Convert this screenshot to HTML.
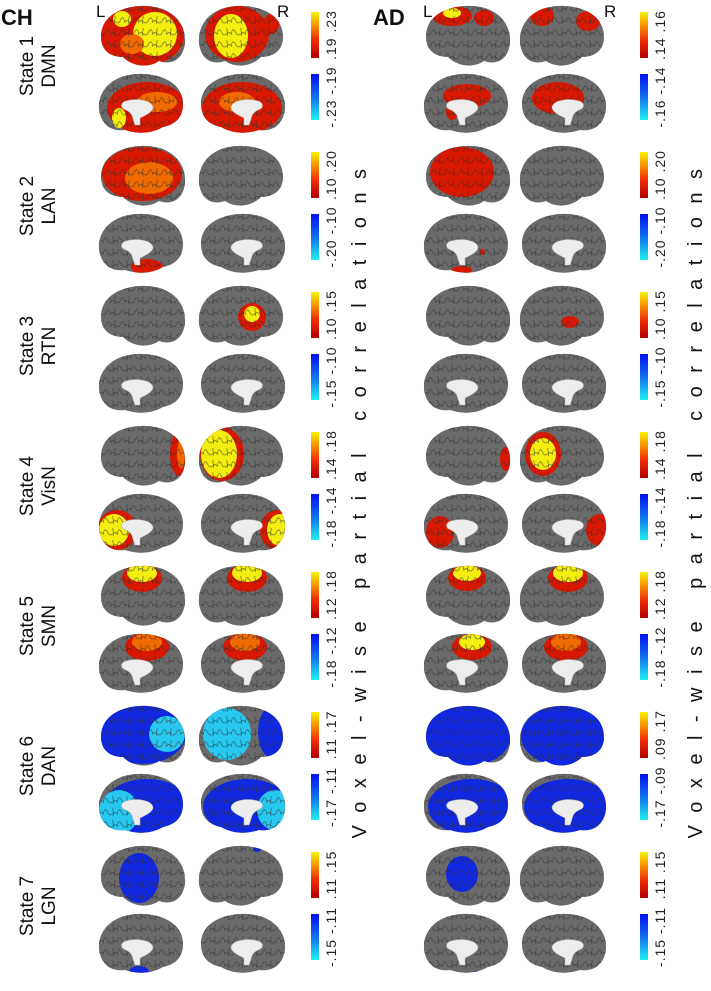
<!DOCTYPE html>
<html><head><meta charset="utf-8"><style>
body{margin:0;background:#fff;width:711px;height:991px;overflow:hidden;font-family:"Liberation Sans",sans-serif}
svg{display:block}
</style></head><body>
<svg id="fig" width="711" height="991" viewBox="0 0 711 991" xmlns="http://www.w3.org/2000/svg">
<defs>
<linearGradient id="warm" x1="0" y1="1" x2="0" y2="0"><stop offset="0" stop-color="#b00000"/><stop offset="0.4" stop-color="#f03000"/><stop offset="0.75" stop-color="#f8a000"/><stop offset="1" stop-color="#f8f000"/></linearGradient>
<linearGradient id="cool" x1="0" y1="0" x2="0" y2="1"><stop offset="0" stop-color="#0010f0"/><stop offset="0.5" stop-color="#1070f0"/><stop offset="1" stop-color="#20f0f0"/></linearGradient>
<pattern id="gyri" width="14" height="12" patternUnits="userSpaceOnUse"><path d="M0,6 C3,1 6,11 9,5 S13,2 14,7 M4,0 C5,3 2,4 4,8" fill="none" stroke="#2e2e2e" stroke-width="0.8" opacity="0.6"/></pattern>
<path id="latL" d="M4,33 C4,10 28,1 50,2 C74,3 89,18 88,38 C87,54 76,62 62,57 C52,64 36,63 26,53 C12,53 4,45 4,33Z"/>
<path id="med" d="M4,32 C4,10 28,1 50,2 C74,3 89,18 88,36 C87,52 76,60 62,58 C50,62 36,62 24,55 C10,52 4,44 4,32Z"/>
</defs>
<g id="root"></g>
</svg>
<script>
const NS='http://www.w3.org/2000/svg';
const root=document.getElementById('root');
function mk(tag,attrs,parent){const e=document.createElementNS(NS,tag);for(const k in attrs)e.setAttribute(k,attrs[k]);(parent||root).appendChild(e);return e;}
const C={r:'#d81800',o:'#f06a00',y:'#f4ee10',b:'#1028e0',c:'#28c8f0'};
const chBlobs=[
 [[[45,32,42,30,'r'],[58,30,22,22,'y'],[25,15,9,8,'y'],[35,40,12,10,'o']],[[40,30,32,28,'r'],[34,32,17,22,'y'],[74,20,8,10,'r']],[[50,36,40,26,'r'],[60,30,20,10,'o'],[22,46,7,10,'y']],[[45,36,40,26,'r'],[40,30,18,10,'o']]],
 [[[45,30,40,27,'r'],[52,34,24,16,'o']],[],[[50,55,16,8,'r']],[]],
 [[],[[55,33,14,14,'r'],[55,30,8,8,'y']],[],[[80,62,4,3,'r']]],
 [[[82,30,9,22,'r'],[84,30,4,14,'o']],[[25,30,22,27,'r'],[22,30,18,24,'y']],[[20,38,20,20,'r'],[17,38,15,16,'y']],[[80,38,17,20,'r'],[83,38,13,16,'y']]],
 [[[45,14,20,14,'r'],[45,9,15,9,'y']],[[50,14,20,14,'r'],[50,9,15,9,'y']],[[50,15,22,14,'r'],[50,10,15,9,'o']],[[48,15,22,14,'r'],[48,10,15,9,'o']]],
 [[[45,30,44,30,'b'],[70,30,18,18,'c']],[[30,30,24,26,'c'],[75,28,14,26,'b']],[[50,35,44,28,'b'],[22,40,20,22,'c']],[[50,35,44,28,'b'],[78,38,18,20,'c']]],
 [[[42,34,20,25,'b']],[[60,5,4,3,'b']],[[42,60,10,6,'b']],[]]
];
const adBlobs=[
 [[[30,12,20,10,'r'],[30,9,9,5,'y'],[62,14,10,8,'r']],[[24,12,12,10,'r'],[70,17,12,10,'r']],[[45,24,24,12,'r'],[30,40,6,8,'r']],[[40,26,26,16,'r']]],
 [[[40,28,32,25,'r']],[],[[40,58,10,4,'r'],[60,40,3,3,'r']],[]],
 [[],[[52,38,9,6,'r']],[],[]],
 [[[84,35,6,12,'r']],[[25,30,18,22,'r'],[25,30,13,16,'y']],[[18,40,14,16,'r']],[[82,38,14,16,'r']]],
 [[[45,14,19,13,'r'],[45,9,14,8,'y']],[[50,14,20,14,'r'],[50,9,15,9,'y']],[[50,15,20,13,'r'],[50,10,13,8,'y']],[[48,15,22,14,'r'],[48,10,15,9,'o']]],
 [[[45,32,44,30,'b']],[[45,32,42,30,'b']],[[50,35,44,28,'b']],[[50,35,44,28,'b']]],
 [[[40,30,16,18,'b']],[],[[55,62,4,3,'b']],[]]
];
const stateNames=['DMN','LAN','RTN','VisN','SMN','DAN','LGN'];
const chTicks=[['.19','.23'],['.10','.20'],['.10','.15'],['.14','.18'],['.12','.18'],['.11','.17'],['.11','.15']];
const adTicks=[['.14','.16'],['.10','.20'],['.10','.15'],['.14','.18'],['.12','.18'],['.09','.17'],['.11','.15']];
let cid=0;
function brain(x,y,type,mirror,blobs,name){
  const g=mk('g',{transform:`translate(${x},${y})`+(mirror?' translate(90,0) scale(-1,1)':'')});
  
  
  const id='cl'+(cid++);
  const cp=mk('clipPath',{id:id},g);mk('use',{href:type==='lat'?'#latL':'#med'},cp);
  mk('use',{href:type==='lat'?'#latL':'#med',fill:'#6a6a6a'},g);
  const inner=mk('g',{'clip-path':`url(#${id})`},g);
  blobs.forEach(b=>{
    const bx=mirror?90-b[0]:b[0];
    mk('ellipse',{cx:bx,cy:b[1],rx:b[2],ry:b[3],fill:C[b[4]]},inner);
  });
  mk('rect',{x:0,y:0,width:92,height:66,fill:'url(#gyri)'},inner);
  if(type==='med'){
    mk('path',{d:'M34,35 C36,28 50,26 61,29 C67,31 67,36 61,38 C57,40 55,42 54,47 L52,53 L47,53 L47,46 C41,43 34,40 34,35Z',fill:'#ededed',stroke:'#bbb','stroke-width':0.6},g);
  }
}
function colorbar(x,y,ticks,name){
  const g=mk('g',{});
  
  
  mk('rect',{x:x,y:y,width:8,height:46,fill:'url(#warm)'},g);
  mk('rect',{x:x,y:y+62,width:8,height:46,fill:'url(#cool)'},g);
  const t1=mk('text',{x:0,y:0,'font-size':14,fill:'#222','text-anchor':'middle','letter-spacing':'1',transform:`translate(${x+25},${y+23}) rotate(-90)`},g);
  t1.textContent=ticks[0]+'  '+ticks[1];
  const t2=mk('text',{x:0,y:0,'font-size':14,fill:'#222','text-anchor':'middle','letter-spacing':'1',transform:`translate(${x+25},${y+85}) rotate(-90)`},g);
  t2.textContent='-'+ticks[1]+' -'+ticks[0];
}
for(let k=0;k<7;k++){
  const top=140*k;
  const lab=mk('text',{x:0,y:0,'font-size':19,fill:'#111','text-anchor':'middle',transform:`translate(${33},${top+66}) rotate(-90)`});
  
  
  lab.textContent='State '+(k+1);
  const lab2=mk('text',{x:0,y:0,'font-size':19,fill:'#111','text-anchor':'middle',transform:`translate(${55},${top+66}) rotate(-90)`});
  
  
  lab2.textContent=stateNames[k];
  [[97,197,311,chBlobs,chTicks,'ch'],[422,518,640,adBlobs,adTicks,'ad']].forEach(p=>{
    const bl=p[3][k];
    brain(p[0],top+4,'lat',false,bl[0],p[5]+'-state'+(k+1)+'-left-lateral');
    brain(p[1],top+4,'lat',true,bl[1],p[5]+'-state'+(k+1)+'-right-lateral');
    brain(p[0],top+72,'med',true,bl[2],p[5]+'-state'+(k+1)+'-left-medial');
    brain(p[1],top+72,'med',false,bl[3],p[5]+'-state'+(k+1)+'-right-medial');
    colorbar(p[2],top+12,p[4][k],p[5]+'-colorbar-'+(k+1));
  });
}
function txt(x,y,s,size,bold,name,anchor){
  const t=mk('text',{x:x,y:y,'font-size':size,'font-weight':bold?'bold':'normal',fill:'#111','text-anchor':anchor||'start'});
  
  
  t.textContent=s;return t;
}
txt(1,25,'CH',22,true,'ch-panel-title');
txt(373,25,'AD',22,true,'ad-panel-title');
txt(96,17,'L',17,false,'ch-left-label');
txt(277,17,'R',17,false,'ch-right-label');
txt(423,17,'L',17,false,'ad-left-label');
txt(604,17,'R',17,false,'ad-right-label');
[366,702].forEach((x,i)=>{
  const t=mk('text',{x:0,y:0,'font-size':20,fill:'#111','text-anchor':'middle','letter-spacing':'13.5',transform:`translate(${x},${497}) rotate(-90)`});
  
  
  t.textContent='Voxel-wise partial correlations';
});
</script>
</body></html>
